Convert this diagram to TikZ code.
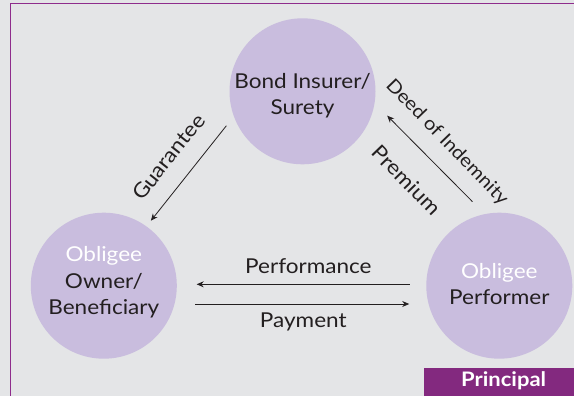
\documentclass[tikz,border=0pt]{standalone}
\usepackage{fontspec}
\setmainfont{Lato}[FakeStretch=1.1]
\usetikzlibrary{calc,arrows.meta}

\definecolor{bggray}{HTML}{E4E5E7}
\definecolor{framepurple}{HTML}{8E2C8C}
\definecolor{lavender}{HTML}{C9BDDE}
\definecolor{plum}{HTML}{83297F}
\definecolor{ink}{HTML}{231F20}

\begin{document}
\begin{tikzpicture}[x=1pt,y=-1pt,
  party/.style={circle,fill=lavender,minimum size=146pt,inner sep=0pt},
  partytext/.style={align=center,text=ink,inner sep=0pt,
    font=\fontsize{20.5}{26.5}\selectfont},
  flow/.style={draw=ink,line width=0.8pt,-{Stealth[length=7pt,width=6pt]}},
  lbl/.style={text=ink,inner sep=0pt,font=\fontsize{20.5}{24}\selectfont},
  tag/.style={fill=plum,text=white,font=\bfseries\fontsize{20}{24}\selectfont}]
\fill[bggray] (0,0) rectangle (574,396);
\useasboundingbox (0,0) rectangle (574,396);
% frame, open on the right and at the bottom
\draw[framepurple,line width=1.2pt] (10.5,396) -- (10.5,3.5) -- (574,3.5);

% the three parties
\node[party] (surety) at (302.5,91.3) {};
\node[party] (owner) at (103.8,285.7) {};
\node[party] (performer) at (499.3,285.7) {};
\node[partytext] (surety text) at ($(surety)+(0,4.5)$) {Bond Insurer/\\Surety};
\node[partytext] (owner text) at ($(owner)+(0,-3)$) {\textcolor{white}{Obligee}\\Owner/\\Beneficiary};
\node[partytext] (performer text) at ($(performer)+(0,-1.5)$) {\textcolor{white}{Obligee}\\Performer};

% principal tag
\path[fill=plum] (424,367.5) rectangle (574,396);
\node[tag,inner sep=0pt] (principal) at (503.7,381) {Principal};

% flows between them
\draw[flow] ($(surety)+(-76.1,34.4)$) -- ($(owner)+(47.1,-65)$);
\draw[flow] ($(performer)+(-26.8,-84)$) -- ($(surety)+(84.7,24.4)$);
\draw[flow] ($(performer)+(-89.8,-1.4)$) -- ($(owner)+(92.9,-1.4)$);
\draw[flow] ($(owner)+(91.4,18.3)$) -- ($(performer)+(-90.1,18.3)$);

% labels
\node[lbl,rotate=51.5] (guarantee) at (168.5,156.7) {Guarantee};
\node[lbl,rotate=-46,font=\fontsize{18.5}{22}\selectfont] (deed) at (446.9,142.5) {Deed of Indemnity};
\node[lbl,rotate=-46] (premium) at (406.6,180) {Premium};
\node[lbl] (performance) at (308.4,265.7) {Performance};
\node[lbl] (payment) at (303.3,321.7) {Payment};
\end{tikzpicture}
\end{document}
